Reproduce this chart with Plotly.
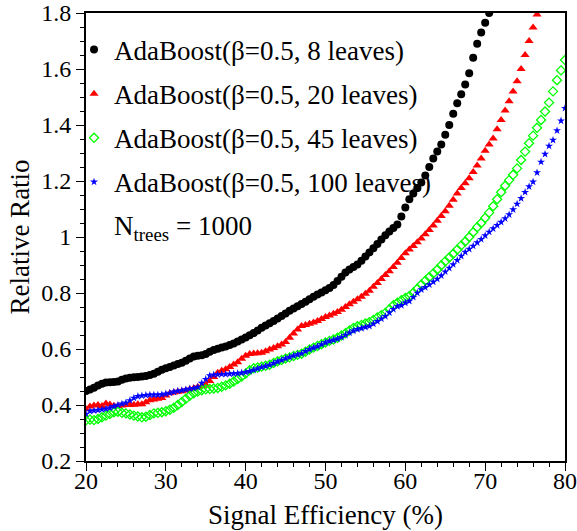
import plotly.graph_objects as go

# ---- data ----
eff_start = 20.0
eff_step = 0.5

black_8 = [0.450, 0.455, 0.462, 0.470, 0.476, 0.480, 0.481, 0.482, 0.484, 0.490,
           0.495, 0.497, 0.499, 0.500, 0.502, 0.504, 0.507, 0.512, 0.519, 0.526,
           0.531, 0.536, 0.541, 0.546, 0.551, 0.558, 0.566, 0.573, 0.576, 0.578,
           0.582, 0.590, 0.596, 0.601, 0.605, 0.609, 0.614, 0.620, 0.627, 0.634,
           0.641, 0.649, 0.657, 0.666, 0.676, 0.684, 0.692, 0.700, 0.709, 0.718,
           0.727, 0.737, 0.745, 0.753, 0.761, 0.769, 0.778, 0.787, 0.795, 0.802,
           0.810, 0.818, 0.829, 0.843, 0.858, 0.873, 0.884, 0.893, 0.902, 0.915,
           0.930, 0.945, 0.960, 0.975, 0.991, 1.006, 1.020, 1.032, 1.045, 1.073,
           1.105, 1.135, 1.155, 1.175, 1.195, 1.220, 1.250, 1.280, 1.305, 1.330,
           1.365, 1.400, 1.440, 1.478, 1.510, 1.545, 1.585, 1.640, 1.690, 1.730,
           1.765, 1.800]

red_20 = [0.385, 0.395, 0.398, 0.400, 0.396, 0.405, 0.402, 0.397, 0.396, 0.398,
          0.400, 0.400, 0.401, 0.403, 0.403, 0.410, 0.417, 0.420, 0.422, 0.425,
          0.434, 0.442, 0.445, 0.447, 0.449, 0.452, 0.456, 0.460, 0.464, 0.467,
          0.472, 0.486, 0.500, 0.515, 0.522, 0.528, 0.536, 0.545, 0.553, 0.565,
          0.576, 0.582, 0.584, 0.585, 0.587, 0.592, 0.598, 0.604, 0.610, 0.616,
          0.625, 0.640, 0.655, 0.670, 0.682, 0.686, 0.690, 0.695, 0.700, 0.707,
          0.714, 0.720, 0.726, 0.732, 0.740, 0.750, 0.760, 0.769, 0.778, 0.787,
          0.797, 0.808, 0.822, 0.836, 0.850, 0.864, 0.878, 0.893, 0.908, 0.925,
          0.942, 0.955, 0.968, 0.981, 0.995, 1.010, 1.025, 1.041, 1.058, 1.075,
          1.092, 1.112, 1.133, 1.155, 1.175, 1.192, 1.210, 1.232, 1.255, 1.280,
          1.308, 1.330, 1.352, 1.385, 1.418, 1.452, 1.485, 1.520, 1.556, 1.600,
          1.650, 1.700, 1.748, 1.795]

green_45 = [0.345, 0.348, 0.346, 0.350, 0.356, 0.362, 0.368, 0.374, 0.376, 0.372,
            0.370, 0.366, 0.362, 0.359, 0.356, 0.358, 0.364, 0.370, 0.372, 0.374,
            0.378, 0.383, 0.390, 0.400, 0.411, 0.422, 0.433, 0.442, 0.448, 0.453,
            0.456, 0.457, 0.459, 0.461, 0.465, 0.470, 0.476, 0.484, 0.493, 0.502,
            0.512, 0.524, 0.531, 0.534, 0.537, 0.540, 0.544, 0.550, 0.556, 0.561,
            0.566, 0.570, 0.575, 0.579, 0.583, 0.590, 0.598, 0.605, 0.611, 0.617,
            0.623, 0.629, 0.634, 0.640, 0.648, 0.656, 0.666, 0.675, 0.681, 0.686,
            0.691, 0.696, 0.704, 0.713, 0.721, 0.729, 0.742, 0.756, 0.765, 0.774,
            0.782, 0.789, 0.801, 0.815, 0.830, 0.844, 0.857, 0.870, 0.884, 0.899,
            0.913, 0.927, 0.940, 0.955, 0.970, 0.984, 1.000, 1.017, 1.035, 1.050,
            1.068, 1.087, 1.110, 1.135, 1.160, 1.183, 1.203, 1.222, 1.245, 1.275,
            1.305, 1.335, 1.362, 1.390, 1.418, 1.448, 1.480, 1.520, 1.560, 1.595,
            1.632]

blue_100 = [0.368, 0.378, 0.380, 0.382, 0.384, 0.386, 0.390, 0.395, 0.400, 0.404,
            0.408, 0.416, 0.425, 0.431, 0.433, 0.435, 0.436, 0.436, 0.436, 0.437,
            0.440, 0.443, 0.447, 0.450, 0.452, 0.455, 0.458, 0.460, 0.464, 0.478,
            0.492, 0.505, 0.508, 0.509, 0.510, 0.510, 0.511, 0.512, 0.513, 0.515,
            0.517, 0.520, 0.525, 0.530, 0.535, 0.539, 0.543, 0.549, 0.555, 0.560,
            0.566, 0.571, 0.576, 0.580, 0.584, 0.592, 0.599, 0.604, 0.609, 0.616,
            0.623, 0.628, 0.632, 0.636, 0.642, 0.650, 0.658, 0.665, 0.670, 0.674,
            0.678, 0.682, 0.690, 0.699, 0.708, 0.717, 0.730, 0.742, 0.752, 0.756,
            0.765, 0.771, 0.785, 0.800, 0.812, 0.820, 0.830, 0.840, 0.850, 0.862,
            0.876, 0.889, 0.902, 0.917, 0.932, 0.946, 0.957, 0.968, 0.980, 0.992,
            1.005, 1.018, 1.030, 1.042, 1.053, 1.066, 1.080, 1.098, 1.118, 1.138,
            1.160, 1.180, 1.197, 1.230, 1.268, 1.296, 1.325, 1.346, 1.380, 1.415,
            1.460]

series_names = ["AdaBoost(β=0.5, 8 leaves)", "AdaBoost(β=0.5, 20 leaves)",
                "AdaBoost(β=0.5, 45 leaves)", "AdaBoost(β=0.5, 100 leaves)"]
series_values = [black_8, red_20, green_45, blue_100]
series_colors = ["#000000", "#ff0000", "#00ff00", "#0000ff"]
series_symbols = ["circle", "triangle-up", "diamond-open", "star"]
series_sizes = [8, 8, 7, 6]

x_tick_vals = [20, 30, 40, 50, 60, 70, 80]
y_tick_vals = [0.2, 0.4, 0.6, 0.8, 1.0, 1.2, 1.4, 1.6, 1.8]
y_tick_text = ["0.2", "0.4", "0.6", "0.8", "1", "1.2", "1.4", "1.6", "1.8"]

FONT = "Liberation Serif, Times New Roman, serif"

fig = go.Figure()
for name, vals, col, sym, sz in zip(series_names, series_values, series_colors,
                                    series_symbols, series_sizes):
    xs = [eff_start + i * eff_step for i in range(len(vals))]
    fig.add_trace(go.Scatter(
        x=xs, y=vals, mode="markers", name=name, legendgroup=name,
        marker=dict(symbol=sym, size=sz, color=col,
                    line=dict(width=1.3 if sym == "diamond-open" else 0, color=col)),
    ))

fig.add_annotation(x=0.055, y=0.52, xref="paper", yref="paper",
                   text="N<sub>trees</sub> = 1000", showarrow=False,
                   xanchor="left", yanchor="middle",
                   font=dict(family=FONT, size=27, color="black"))

axis_common = dict(
    showgrid=False, zeroline=False, showline=True, linecolor="black", linewidth=2,
    mirror=True, ticks="outside", ticklen=8, tickwidth=1.2, tickcolor="black",
    tickfont=dict(family=FONT, size=24, color="black"), automargin=False,
)

fig.update_xaxes(range=[20, 80], tickvals=x_tick_vals,
                 minor=dict(dtick=2, ticks="outside", ticklen=4, tickcolor="black", tickwidth=1),
                 title=dict(text="Signal Efficiency (%)", font=dict(family=FONT, size=27, color="black"),
                            standoff=12),
                 ticklabelstandoff=-11,
                 **axis_common)
fig.update_yaxes(range=[0.2, 1.8], tickvals=y_tick_vals, ticktext=y_tick_text,
                 minor=dict(dtick=0.05, ticks="outside", ticklen=4, tickcolor="black", tickwidth=1),
                 title=dict(text="Relative Ratio", font=dict(family=FONT, size=27, color="black"),
                            standoff=4),
                 **axis_common)

fig.update_layout(
    width=577, height=531,
    margin=dict(l=86, r=12, t=13, b=70, autoexpand=False),
    plot_bgcolor="white", paper_bgcolor="white",
    font=dict(family=FONT, color="black"),
    legend=dict(x=-0.025, y=0.972, xanchor="left", yanchor="top",
                bgcolor="rgba(0,0,0,0)", borderwidth=0,
                font=dict(family=FONT, size=27),
                tracegroupgap=6, itemwidth=30),
    showlegend=True,
)

# remove the default page margin so the figure fills the window exactly
fig.write_html("out.html",
               config={"displayModeBar": False},
               post_script="document.body.style.margin='0';document.body.style.overflow='hidden';")
